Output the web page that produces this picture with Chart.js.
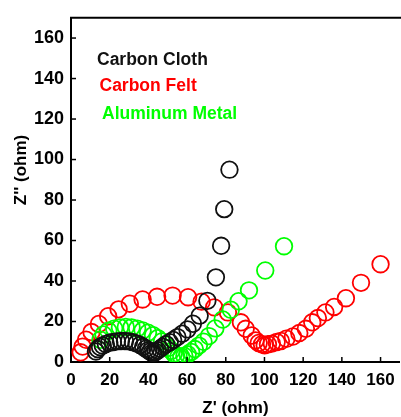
<!DOCTYPE html>
<html>
<head>
<meta charset="utf-8">
<script src="https://cdn.jsdelivr.net/npm/chart.js@4"></script>
<style>
  html, body { margin: 0; padding: 0; background: #fff; overflow: hidden; }
  #wrap { width: 410px; height: 417px; }
</style>
</head>
<body>
<div id="wrap"><canvas id="nyquistChart" width="410" height="417"></canvas></div>
<script>
const clothRe = [12.9, 13.8, 15.0, 16.4, 18.0, 19.8, 21.7, 23.7, 25.8, 27.9, 30.0, 32.0, 33.9, 35.7, 37.3, 38.7, 39.9, 40.9, 41.8, 42.7, 43.7, 44.8, 46.0, 47.4, 49.2, 51.0, 52.8, 55.0, 57.5, 60.2, 63.0, 66.5, 70.5, 74.9, 77.6, 79.2, 81.9];
const clothIm = [5.2, 6.4, 7.4, 8.2, 8.9, 9.5, 9.9, 10.2, 10.4, 10.4, 10.2, 9.8, 9.2, 8.4, 7.5, 6.6, 5.8, 5.2, 4.6, 4.5, 5.0, 5.7, 6.5, 7.5, 8.8, 9.8, 10.9, 12.3, 14.0, 16.1, 18.9, 22.9, 30.2, 41.8, 57.4, 75.5, 95.0];

const feltRe = [5.0, 6.0, 7.8, 10.6, 14.4, 19.2, 24.6, 30.4, 37.0, 44.5, 52.5, 60.5, 67.5, 74.0, 81.1, 87.8, 90.3, 93.4, 95.4, 97.0, 98.7, 100.1, 101.8, 103.8, 106.3, 108.5, 111.3, 114.7, 118.0, 121.4, 124.7, 127.6, 131.5, 136.0, 142.1, 149.9, 160.0];
const feltIm = [4.8, 7.6, 11.0, 14.8, 18.8, 22.6, 26.0, 28.8, 30.9, 32.2, 32.8, 32.0, 29.8, 27.0, 24.5, 19.6, 16.4, 13.1, 10.7, 9.4, 8.8, 8.3, 8.8, 9.1, 9.9, 10.4, 11.5, 12.6, 14.3, 16.4, 19.6, 21.7, 24.5, 27.2, 31.5, 39.1, 48.3];

const aluRe = [15.2, 16.8, 19.3, 22.3, 25.3, 28.3, 31.3, 34.2, 37.0, 39.8, 42.4, 44.8, 47.0, 48.9, 50.5, 51.9, 53.1, 54.3, 55.6, 57.0, 58.6, 60.3, 62.1, 64.0, 66.1, 68.5, 71.3, 74.6, 78.4, 82.6, 86.6, 92.0, 100.4, 110.1];
const aluIm = [11.0, 13.6, 15.4, 16.5, 17.1, 17.3, 17.1, 16.5, 15.6, 14.5, 13.2, 11.8, 10.2, 8.6, 7.0, 5.5, 4.2, 3.2, 2.7, 2.6, 3.0, 3.8, 5.0, 6.4, 8.1, 10.0, 12.8, 16.6, 21.0, 25.8, 30.0, 35.4, 45.2, 57.2];

const xTicks = [0, 20, 40, 60, 80, 100, 120, 140, 160];
const yTicks = [0, 20, 40, 60, 80, 100, 120, 140, 160];

const seriesNames = ['Carbon Cloth', 'Carbon Felt', 'Aluminum Metal'];
const seriesColors = ['#111111', 'rgb(255,0,0)', 'rgb(0,255,0)'];

function toPoints(xs, ys) {
    return xs.map((x, i) => ({ x: x, y: ys[i] }));
}

const FONT = "'Liberation Sans', Arial, sans-serif";

// draws the top frame line, inward ticks, the text legend and axis titles
const decorPlugin = {
    id: 'decor',
    afterDraw(chart) {
        const ctx = chart.ctx;
        const area = chart.chartArea;
        const xs = chart.scales.x;
        const ys = chart.scales.y;
        ctx.save();
        ctx.strokeStyle = '#000';
        ctx.lineWidth = 2;
        ctx.beginPath();
        ctx.moveTo(area.left - 1, area.top);
        ctx.lineTo(area.right + 5, area.top);
        ctx.stroke();

        ctx.lineWidth = 1.5;
        xTicks.forEach(v => {
            const px = xs.getPixelForValue(v);
            ctx.beginPath();
            ctx.moveTo(px, area.bottom);
            ctx.lineTo(px, area.bottom - 5);
            ctx.stroke();
        });
        yTicks.forEach(v => {
            const py = ys.getPixelForValue(v);
            ctx.beginPath();
            ctx.moveTo(area.left, py);
            ctx.lineTo(area.left + 5, py);
            ctx.stroke();
        });

        // legend as plain coloured text
        ctx.font = 'bold 17.5px ' + FONT;
        ctx.textBaseline = 'middle';
        ctx.textAlign = 'left';
        const legendX = [26, 28.5, 31];
        const legendY = [42, 68, 96];
        seriesNames.forEach((name, i) => {
            ctx.fillStyle = seriesColors[i];
            ctx.fillText(name, area.left + legendX[i], area.top + legendY[i]);
        });

        // axis titles
        ctx.fillStyle = '#000';
        ctx.font = 'bold 17px ' + FONT;
        ctx.textAlign = 'center';
        ctx.fillText("Z' (ohm)", (area.left + area.right) / 2, 408);
        ctx.save();
        ctx.translate(21.5, 170);
        ctx.rotate(-Math.PI / 2);
        ctx.fillText("Z'' (ohm)", 0, 0);
        ctx.restore();
        ctx.restore();
    }
};

const chartData = {
    datasets: [
        {
            label: seriesNames[0],
            data: toPoints(clothRe, clothIm),
            borderColor: seriesColors[0],
            order: 0,
        },
        {
            label: seriesNames[1],
            data: toPoints(feltRe, feltIm),
            borderColor: seriesColors[1],
            order: 2,
        },
        {
            label: seriesNames[2],
            data: toPoints(aluRe, aluIm),
            borderColor: seriesColors[2],
            order: 1,
        }
    ]
};

const config = {
    type: 'scatter',
    data: chartData,
    options: {
        responsive: false,
        animation: false,
        layout: { padding: { top: 13, right: 2, left: 0, bottom: 0 } },
        elements: {
            point: {
                radius: 8.3,
                borderWidth: 1.8,
                backgroundColor: 'rgba(0,0,0,0)',
                pointStyle: 'circle'
            }
        },
        scales: {
            x: {
                type: 'linear',
                min: 0,
                max: 170,
                afterFit: function(scale) { scale.height = 55; },
                grid: { display: true, drawOnChartArea: false, drawTicks: false },
                border: { display: true, color: '#000', width: 2 },
                ticks: {
                    stepSize: 20,
                    includeBounds: false,
                    padding: 8,
                    color: '#000',
                    font: { family: FONT, size: 17, weight: 'bold' }
                }
            },
            y: {
                type: 'linear',
                min: 0,
                max: 170,
                afterFit: function(scale) { scale.width = 71; },
                grid: { display: true, drawOnChartArea: false, drawTicks: false },
                border: { display: true, color: '#000', width: 2 },
                ticks: {
                    stepSize: 20,
                    includeBounds: false,
                    padding: 7,
                    color: '#000',
                    font: { family: FONT, size: 18, weight: 'bold' }
                }
            }
        },
        plugins: {
            legend: { display: false },
            tooltip: { enabled: false }
        }
    },
    plugins: [decorPlugin]
};

const myChart = new Chart(document.getElementById('nyquistChart'), config);
</script>
</body>
</html>
